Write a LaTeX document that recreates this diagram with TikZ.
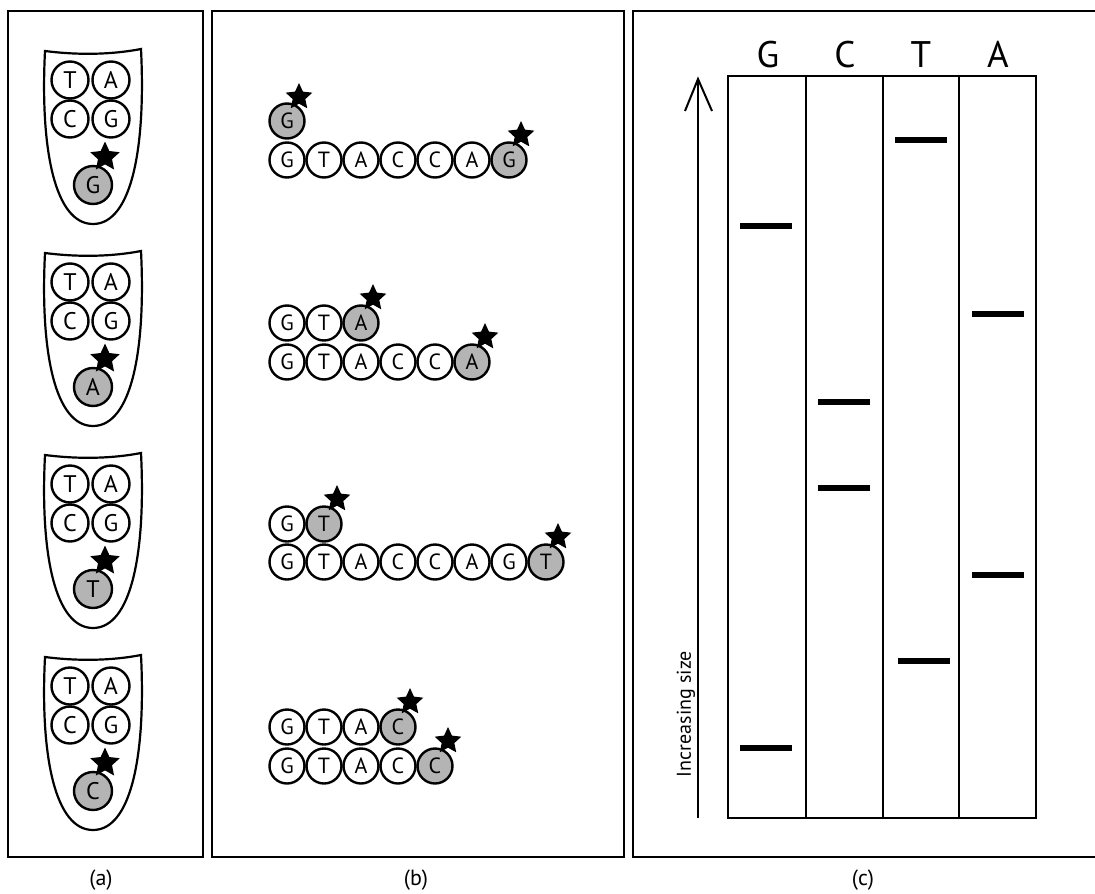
\documentclass[tikz,border=0pt]{standalone}
\usepackage{fontspec}
\setmainfont{PT Sans}
\usepackage{tikz}
\usetikzlibrary{shapes.geometric,calc}
\definecolor{dyegray}{RGB}{180,180,180}

\begin{document}
\begin{tikzpicture}[x=1pt, y=-1pt,
    frame/.style={line width=2.6},
    base/.style={circle, draw, line width=2.4, minimum size=35, inner sep=0, font=\fontsize{22}{22}\selectfont},
    tubebase/.style={base, minimum size=37, font=\fontsize{24}{24}\selectfont},
    ddntp/.style={base, fill=dyegray},
    tag/.style={star, star points=5, star point ratio=2.1, fill=black, minimum size=28, inner sep=0},
    band/.style={line width=6},
    lane/.style={line width=2.2}]
    \useasboundingbox (0,0) rectangle (1095,894);

    \draw[frame] (8,11) rectangle (203,857);
    \draw[frame] (212,11) rectangle (624,857);
    \draw[frame] (1095,11) -- (633,11) -- (633,857) -- (1095,857);
    \node[font=\fontsize{22}{22}\selectfont] (labela) at (101,880) {(a)};
    \node[font=\fontsize{22}{22}\selectfont] (labelb) at (416,880) {(b)};
    \node[font=\fontsize{22}{22}\selectfont] (labelc) at (863,880) {(c)};

    % (a) tubes
    \foreach \ddn [count=\i from 0] in {G,A,T,C}{
        \pgfmathsetmacro{\ty}{50+202*\i}
        \draw[line width=2.2] (45,\ty+1) .. controls (40,\ty+100) and (55,\ty+174) .. (93,\ty+174)
            .. controls (131,\ty+174) and (146,\ty+100) .. (141,\ty-1)
            .. controls (110,\ty+5) and (76,\ty+5) .. cycle;
        \node[tubebase] (tubeT\i) at (70,\ty+30) {T};
        \node[tubebase] (tubeA\i) at (111,\ty+30) {A};
        \node[tubebase] (tubeC\i) at (70,\ty+69) {C};
        \node[tubebase] (tubeG\i) at (111,\ty+69) {G};
        \node[ddntp, minimum size=38, font=\fontsize{24}{24}\selectfont] (tubeddn\i) at (93,\ty+135) {\ddn};
        \node[tag, minimum size=31] (tubetag\i) at (105,\ty+107) {};
    }

    % (b) strands
    \node[ddntp] (oneprimer) at (287,121) {G};
    \foreach \b [count=\k from 0] in {G,T,A,C,C,A}
        \node[base] (one\k) at (287+37*\k,160) {\b};
    \node[ddntp] (oneend) at (509,160) {G};
    \node[tag] (onetagp) at ($(oneprimer)+(12,-24)$) {};
    \node[tag] (onetage) at ($(oneend)+(12,-25)$) {};

    \foreach \b [count=\k from 0] in {G,T}
        \node[base] (twop\k) at (287+37*\k,323) {\b};
    \node[ddntp] (twoprimer) at (361,323) {A};
    \foreach \b [count=\k from 0] in {G,T,A,C,C}
        \node[base] (two\k) at (287+37*\k,362) {\b};
    \node[ddntp] (twoend) at (472,362) {A};
    \node[tag] (twotagp) at ($(twoprimer)+(12,-25)$) {};
    \node[tag] (twotage) at ($(twoend)+(13,-25)$) {};

    \node[base] (threep0) at (287,524) {G};
    \node[ddntp] (threeprimer) at (324,524) {T};
    \foreach \b [count=\k from 0] in {G,T,A,C,C,A,G}
        \node[base] (three\k) at (287+37*\k,562) {\b};
    \node[ddntp] (threeend) at (546,562) {T};
    \node[tag] (threetagp) at ($(threeprimer)+(13,-25)$) {};
    \node[tag] (threetage) at ($(threeend)+(12,-25)$) {};

    \foreach \b [count=\k from 0] in {G,T,A}
        \node[base] (fourp\k) at (287+37*\k,727) {\b};
    \node[ddntp] (fourprimer) at (398,727) {C};
    \foreach \b [count=\k from 0] in {G,T,A,C}
        \node[base] (four\k) at (287+37*\k,766) {\b};
    \node[ddntp] (fourend) at (435,766) {C};
    \node[tag] (fourtagp) at ($(fourprimer)+(12,-25)$) {};
    \node[tag] (fourtage) at ($(fourend)+(13,-25)$) {};

    % (c) gel
    \draw[lane] (728,76) rectangle (1036,818);
    \foreach \x in {806,883,959}
        \draw[lane] (\x,76) -- (\x,818);
    \foreach \l/\x in {G/768,C/845,T/921,A/998}
        \node[font=\fontsize{37}{37}\selectfont, anchor=base, inner sep=0] (lane\l) at (\x,67) {\l};
    \foreach \x/\y in {740/226,740/748,818/402,818/488,895/140,898/661,972/314,972/575}
        \draw[band] (\x,\y) -- (\x+52,\y);

    \coordinate (sizefoot) at (698,818);
    \coordinate (sizetip) at (698,79);
    \draw[line width=2] (sizefoot) -- (sizetip);
    \draw[line width=2] ($(sizetip)+(-13,32)$) -- (sizetip) -- ($(sizetip)+(14,32)$);
    \node[rotate=90, font=\fontsize{20}{20}\selectfont] (sizelabel) at (686,714) {Increasing size};
\end{tikzpicture}
\end{document}
